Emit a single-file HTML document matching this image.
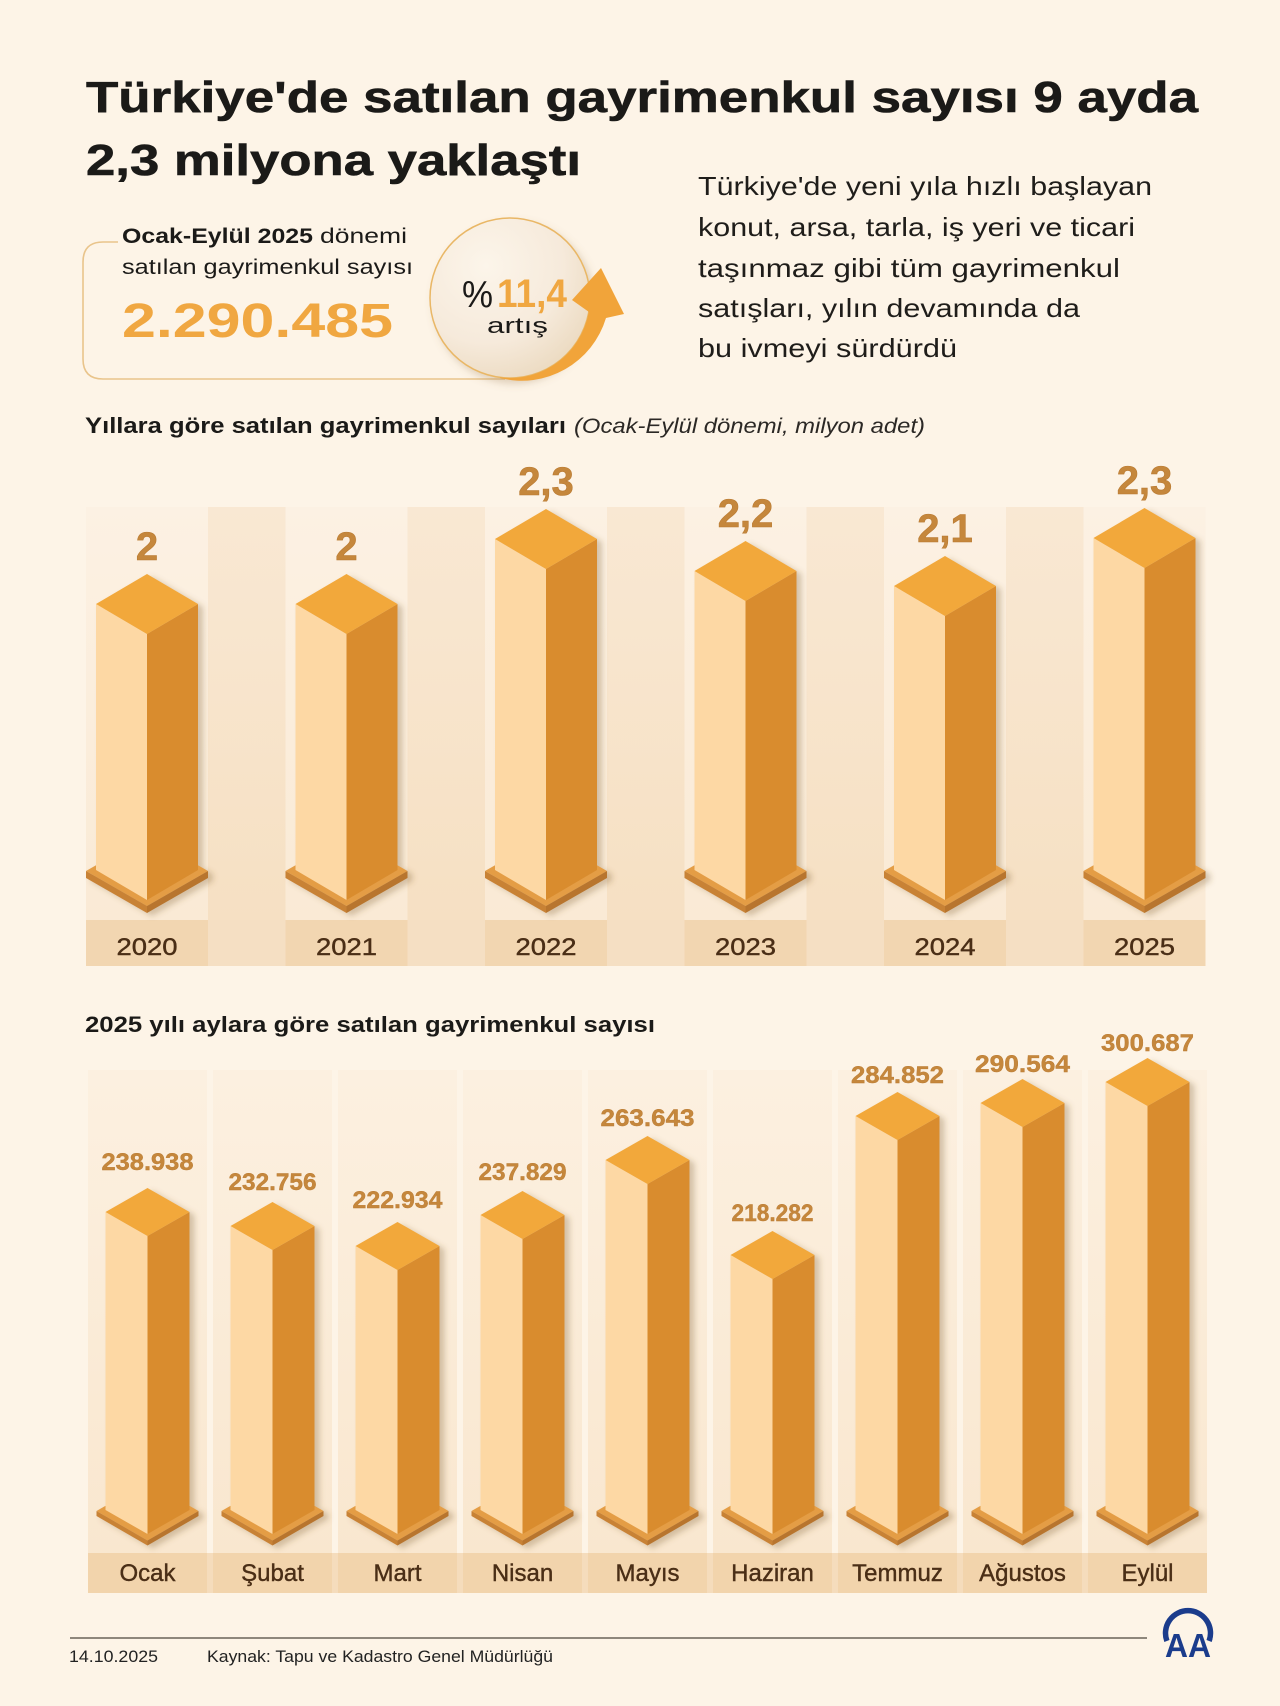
<!DOCTYPE html>
<html lang="tr">
<head>
<meta charset="utf-8">
<title>Türkiye'de satılan gayrimenkul sayısı</title>
<style>
  html,body{margin:0;padding:0;background:#fdf4e7;}
  svg{display:block;}
  text{font-family:"Liberation Sans",Arial,sans-serif;}
</style>
</head>
<body>
<svg width="1280" height="1706" viewBox="0 0 1280 1706" xmlns="http://www.w3.org/2000/svg">
  <defs>
    <linearGradient id="colA" x1="0" y1="0" x2="0" y2="1">
      <stop offset="0" stop-color="#fcf1e3"/>
      <stop offset="1" stop-color="#faead5"/>
    </linearGradient>
    <linearGradient id="gapA" x1="0" y1="0" x2="0" y2="1">
      <stop offset="0" stop-color="#f9e8d3"/>
      <stop offset="1" stop-color="#f6e0c3"/>
    </linearGradient>
    <linearGradient id="colB" x1="0" y1="0" x2="0" y2="1">
      <stop offset="0" stop-color="#fcf0e0"/>
      <stop offset="1" stop-color="#f9e7cf"/>
    </linearGradient>
    <radialGradient id="circ" cx="0.35" cy="0.3" r="0.8">
      <stop offset="0" stop-color="#fcf5ea"/>
      <stop offset="0.6" stop-color="#f6eadb"/>
      <stop offset="1" stop-color="#ead8bd"/>
    </radialGradient>
    <filter id="sh" x="-30%" y="-10%" width="160%" height="130%">
      <feDropShadow dx="5" dy="3" stdDeviation="3" flood-color="#7a5a30" flood-opacity="0.3"/>
    </filter>
    <filter id="csh" x="-30%" y="-30%" width="160%" height="160%">
      <feDropShadow dx="4" dy="5" stdDeviation="4" flood-color="#9a7a50" flood-opacity="0.3"/>
    </filter>
    <g id="plate1">
      <polygon points="-61,871 0,836 61,871 0,906" fill="#e49d45"/>
      <polygon points="-61,871 0,906 0,913 -61,878" fill="#c88236"/>
      <polygon points="0,906 61,871 61,878 0,913" fill="#b8752d"/>
    </g>
    <g id="plate2">
      <polygon points="-51,1511 0,1481.5 51,1511 0,1540.5" fill="#e49d45"/>
      <polygon points="-51,1511 0,1540.5 0,1545.5 -51,1516" fill="#c88236"/>
      <polygon points="0,1540.5 51,1511 51,1516 0,1545.5" fill="#b8752d"/>
    </g>
  </defs>

  <rect x="0" y="0" width="1280" height="1706" fill="#fdf4e7"/>

  <!-- Title -->
  <text x="86" y="112" font-size="44" font-weight="bold" fill="#1b1a18" stroke="#1b1a18" stroke-width="0.6" textLength="1112" lengthAdjust="spacingAndGlyphs">Türkiye'de satılan gayrimenkul sayısı 9 ayda</text>
  <text x="86" y="175" font-size="44" font-weight="bold" fill="#1b1a18" stroke="#1b1a18" stroke-width="0.6" textLength="495" lengthAdjust="spacingAndGlyphs">2,3 milyona yaklaştı</text>

  <!-- Summary box -->
  <path d="M 118 242 L 103 242 Q 83 242 83 262 L 83 359 Q 83 379 103 379 L 505 379" fill="none" stroke="#e9c48b" stroke-width="1.6"/>
  <text x="122" y="243" font-size="21" font-weight="bold" fill="#1b1a18" textLength="191" lengthAdjust="spacingAndGlyphs">Ocak-Eylül 2025</text>
  <text x="320" y="243" font-size="21" fill="#1b1a18" textLength="87" lengthAdjust="spacingAndGlyphs">dönemi</text>
  <text x="122" y="274" font-size="21" fill="#1b1a18" textLength="291" lengthAdjust="spacingAndGlyphs">satılan gayrimenkul sayısı</text>
  <text x="122" y="337" font-size="48" font-weight="bold" fill="#f0a741" textLength="271" lengthAdjust="spacingAndGlyphs">2.290.485</text>

  <!-- Circle with arrow -->
  <circle cx="510" cy="298" r="80" fill="url(#circ)" stroke="#e9b766" stroke-width="1.5" filter="url(#csh)"/>
  <path d="M 500 378 A 88 88 0 0 0 606 318 L 624 314 L 601 268 L 572 300 L 588.8 311.9 A 80 80 0 0 1 500 377.4 Z" fill="#f1a43a"/>
  <text x="462" y="307" font-size="38" fill="#1b1a18" textLength="31" lengthAdjust="spacingAndGlyphs">%</text>
  <text x="497" y="307" font-size="40" font-weight="bold" fill="#f0a741" textLength="70" lengthAdjust="spacingAndGlyphs">11,4</text>
  <text x="487" y="333" font-size="22" fill="#1b1a18" textLength="61" lengthAdjust="spacingAndGlyphs">artış</text>

  <!-- Paragraph -->
  <g font-size="26" fill="#1f1d1a">
    <text x="698" y="195" textLength="454" lengthAdjust="spacingAndGlyphs">Türkiye'de yeni yıla hızlı başlayan</text>
    <text x="698" y="236" textLength="437" lengthAdjust="spacingAndGlyphs">konut, arsa, tarla, iş yeri ve ticari</text>
    <text x="698" y="277" textLength="422" lengthAdjust="spacingAndGlyphs">taşınmaz gibi tüm gayrimenkul</text>
    <text x="698" y="317" textLength="382" lengthAdjust="spacingAndGlyphs">satışları, yılın devamında da</text>
    <text x="698" y="357" textLength="259" lengthAdjust="spacingAndGlyphs">bu ivmeyi sürdürdü</text>
  </g>

  <!-- Chart 1 heading -->
  <text x="85" y="433" font-size="22" font-weight="bold" fill="#1b1a18" textLength="481" lengthAdjust="spacingAndGlyphs">Yıllara göre satılan gayrimenkul sayıları</text>
  <text x="574" y="433" font-size="21" font-style="italic" fill="#2b2825" textLength="351" lengthAdjust="spacingAndGlyphs">(Ocak-Eylül dönemi, milyon adet)</text>

  <!-- Chart 1 background -->
  <g>
    <rect x="86" y="507" width="122" height="413" fill="url(#colA)"/>
    <rect x="208" y="507" width="77.5" height="413" fill="url(#gapA)"/>
    <rect x="285.5" y="507" width="122" height="413" fill="url(#colA)"/>
    <rect x="407.5" y="507" width="77.5" height="413" fill="url(#gapA)"/>
    <rect x="485" y="507" width="122" height="413" fill="url(#colA)"/>
    <rect x="607" y="507" width="77.5" height="413" fill="url(#gapA)"/>
    <rect x="684.5" y="507" width="122" height="413" fill="url(#colA)"/>
    <rect x="806.5" y="507" width="77.5" height="413" fill="url(#gapA)"/>
    <rect x="884" y="507" width="122" height="413" fill="url(#colA)"/>
    <rect x="1006" y="507" width="77.5" height="413" fill="url(#gapA)"/>
    <rect x="1083.5" y="507" width="122" height="413" fill="url(#colA)"/>
    <!-- band -->
    <rect x="86" y="920" width="1119.5" height="46" fill="#f5dfc3"/>
    <rect x="86" y="920" width="122" height="46" fill="#f2d6b1"/>
    <rect x="285.5" y="920" width="122" height="46" fill="#f2d6b1"/>
    <rect x="485" y="920" width="122" height="46" fill="#f2d6b1"/>
    <rect x="684.5" y="920" width="122" height="46" fill="#f2d6b1"/>
    <rect x="884" y="920" width="122" height="46" fill="#f2d6b1"/>
    <rect x="1083.5" y="920" width="122" height="46" fill="#f2d6b1"/>
  </g>

  <!-- Chart 1 bars -->
  <g filter="url(#sh)">
    <g transform="translate(147,0)">
      <use href="#plate1"/>
      <polygon points="-51,604 0,634 0,900 -51,870" fill="#fdd8a4"/>
      <polygon points="0,634 51,604 51,870 0,900" fill="#d98c2f"/>
      <polygon points="-51,604 0,574 51,604 0,634" fill="#f2a83b"/>
    </g>
    <g transform="translate(346.5,0)">
      <use href="#plate1"/>
      <polygon points="-51,604 0,634 0,900 -51,870" fill="#fdd8a4"/>
      <polygon points="0,634 51,604 51,870 0,900" fill="#d98c2f"/>
      <polygon points="-51,604 0,574 51,604 0,634" fill="#f2a83b"/>
    </g>
    <g transform="translate(546,0)">
      <use href="#plate1"/>
      <polygon points="-51,539 0,569 0,900 -51,870" fill="#fdd8a4"/>
      <polygon points="0,569 51,539 51,870 0,900" fill="#d98c2f"/>
      <polygon points="-51,539 0,509 51,539 0,569" fill="#f2a83b"/>
    </g>
    <g transform="translate(745.5,0)">
      <use href="#plate1"/>
      <polygon points="-51,571 0,601 0,900 -51,870" fill="#fdd8a4"/>
      <polygon points="0,601 51,571 51,870 0,900" fill="#d98c2f"/>
      <polygon points="-51,571 0,541 51,571 0,601" fill="#f2a83b"/>
    </g>
    <g transform="translate(945,0)">
      <use href="#plate1"/>
      <polygon points="-51,586 0,616 0,900 -51,870" fill="#fdd8a4"/>
      <polygon points="0,616 51,586 51,870 0,900" fill="#d98c2f"/>
      <polygon points="-51,586 0,556 51,586 0,616" fill="#f2a83b"/>
    </g>
    <g transform="translate(1144.5,0)">
      <use href="#plate1"/>
      <polygon points="-51,538 0,568 0,900 -51,870" fill="#fdd8a4"/>
      <polygon points="0,568 51,538 51,870 0,900" fill="#d98c2f"/>
      <polygon points="-51,538 0,508 51,538 0,568" fill="#f2a83b"/>
    </g>
  </g>

  <!-- Chart 1 value labels -->
  <g font-size="40" font-weight="bold" fill="#c5873c" text-anchor="middle" stroke="#b97a32" stroke-width="0.6">
    <text x="147" y="560">2</text>
    <text x="346.5" y="560">2</text>
    <text x="546" y="495">2,3</text>
    <text x="745.5" y="527">2,2</text>
    <text x="945" y="542">2,1</text>
    <text x="1144.5" y="494">2,3</text>
  </g>

  <!-- Chart 1 year labels -->
  <g font-size="24" fill="#4a2e16" text-anchor="middle" stroke="#4a2e16" stroke-width="0.4">
    <text x="147" y="955" textLength="61" lengthAdjust="spacingAndGlyphs">2020</text>
    <text x="346.5" y="955" textLength="61" lengthAdjust="spacingAndGlyphs">2021</text>
    <text x="546" y="955" textLength="61" lengthAdjust="spacingAndGlyphs">2022</text>
    <text x="745.5" y="955" textLength="61" lengthAdjust="spacingAndGlyphs">2023</text>
    <text x="945" y="955" textLength="61" lengthAdjust="spacingAndGlyphs">2024</text>
    <text x="1144.5" y="955" textLength="61" lengthAdjust="spacingAndGlyphs">2025</text>
  </g>

  <!-- Chart 2 heading -->
  <text x="85" y="1032" font-size="22" font-weight="bold" fill="#1b1a18" textLength="570" lengthAdjust="spacingAndGlyphs">2025 yılı aylara göre satılan gayrimenkul sayısı</text>

  <!-- Chart 2 background -->
  <g>
    <rect x="88" y="1070" width="119" height="483" fill="url(#colB)"/>
    <rect x="213" y="1070" width="119" height="483" fill="url(#colB)"/>
    <rect x="338" y="1070" width="119" height="483" fill="url(#colB)"/>
    <rect x="463" y="1070" width="119" height="483" fill="url(#colB)"/>
    <rect x="588" y="1070" width="119" height="483" fill="url(#colB)"/>
    <rect x="713" y="1070" width="119" height="483" fill="url(#colB)"/>
    <rect x="838" y="1070" width="119" height="483" fill="url(#colB)"/>
    <rect x="963" y="1070" width="119" height="483" fill="url(#colB)"/>
    <rect x="1088" y="1070" width="119" height="483" fill="url(#colB)"/>
    <rect x="88" y="1553" width="1119" height="40" fill="#f5dcbc"/>
    <rect x="88" y="1553" width="119" height="40" fill="#f2d4ac"/>
    <rect x="213" y="1553" width="119" height="40" fill="#f2d4ac"/>
    <rect x="338" y="1553" width="119" height="40" fill="#f2d4ac"/>
    <rect x="463" y="1553" width="119" height="40" fill="#f2d4ac"/>
    <rect x="588" y="1553" width="119" height="40" fill="#f2d4ac"/>
    <rect x="713" y="1553" width="119" height="40" fill="#f2d4ac"/>
    <rect x="838" y="1553" width="119" height="40" fill="#f2d4ac"/>
    <rect x="963" y="1553" width="119" height="40" fill="#f2d4ac"/>
    <rect x="1088" y="1553" width="119" height="40" fill="#f2d4ac"/>
  </g>

  <!-- Chart 2 bars -->
  <g filter="url(#sh)">
    <g transform="translate(147.5,0)">
      <use href="#plate2"/>
      <polygon points="-42,1212 0,1236 0,1534 -42,1510" fill="#fdd8a4"/>
      <polygon points="0,1236 42,1212 42,1510 0,1534" fill="#d98c2f"/>
      <polygon points="-42,1212 0,1188 42,1212 0,1236" fill="#f2a83b"/>
    </g>
    <g transform="translate(272.5,0)">
      <use href="#plate2"/>
      <polygon points="-42,1226 0,1250 0,1534 -42,1510" fill="#fdd8a4"/>
      <polygon points="0,1250 42,1226 42,1510 0,1534" fill="#d98c2f"/>
      <polygon points="-42,1226 0,1202 42,1226 0,1250" fill="#f2a83b"/>
    </g>
    <g transform="translate(397.5,0)">
      <use href="#plate2"/>
      <polygon points="-42,1246 0,1270 0,1534 -42,1510" fill="#fdd8a4"/>
      <polygon points="0,1270 42,1246 42,1510 0,1534" fill="#d98c2f"/>
      <polygon points="-42,1246 0,1222 42,1246 0,1270" fill="#f2a83b"/>
    </g>
    <g transform="translate(522.5,0)">
      <use href="#plate2"/>
      <polygon points="-42,1215 0,1239 0,1534 -42,1510" fill="#fdd8a4"/>
      <polygon points="0,1239 42,1215 42,1510 0,1534" fill="#d98c2f"/>
      <polygon points="-42,1215 0,1191 42,1215 0,1239" fill="#f2a83b"/>
    </g>
    <g transform="translate(647.5,0)">
      <use href="#plate2"/>
      <polygon points="-42,1160 0,1184 0,1534 -42,1510" fill="#fdd8a4"/>
      <polygon points="0,1184 42,1160 42,1510 0,1534" fill="#d98c2f"/>
      <polygon points="-42,1160 0,1136 42,1160 0,1184" fill="#f2a83b"/>
    </g>
    <g transform="translate(772.5,0)">
      <use href="#plate2"/>
      <polygon points="-42,1255 0,1279 0,1534 -42,1510" fill="#fdd8a4"/>
      <polygon points="0,1279 42,1255 42,1510 0,1534" fill="#d98c2f"/>
      <polygon points="-42,1255 0,1231 42,1255 0,1279" fill="#f2a83b"/>
    </g>
    <g transform="translate(897.5,0)">
      <use href="#plate2"/>
      <polygon points="-42,1116 0,1140 0,1534 -42,1510" fill="#fdd8a4"/>
      <polygon points="0,1140 42,1116 42,1510 0,1534" fill="#d98c2f"/>
      <polygon points="-42,1116 0,1092 42,1116 0,1140" fill="#f2a83b"/>
    </g>
    <g transform="translate(1022.5,0)">
      <use href="#plate2"/>
      <polygon points="-42,1103 0,1127 0,1534 -42,1510" fill="#fdd8a4"/>
      <polygon points="0,1127 42,1103 42,1510 0,1534" fill="#d98c2f"/>
      <polygon points="-42,1103 0,1079 42,1103 0,1127" fill="#f2a83b"/>
    </g>
    <g transform="translate(1147.5,0)">
      <use href="#plate2"/>
      <polygon points="-42,1082 0,1106 0,1534 -42,1510" fill="#fdd8a4"/>
      <polygon points="0,1106 42,1082 42,1510 0,1534" fill="#d98c2f"/>
      <polygon points="-42,1082 0,1058 42,1082 0,1106" fill="#f2a83b"/>
    </g>
  </g>

  <!-- Chart 2 value labels -->
  <g font-size="24" font-weight="bold" fill="#c5873c" text-anchor="middle" stroke="#b97a32" stroke-width="0.4">
    <text x="147.5" y="1170" textLength="92" lengthAdjust="spacingAndGlyphs">238.938</text>
    <text x="272.5" y="1190" textLength="88" lengthAdjust="spacingAndGlyphs">232.756</text>
    <text x="397.5" y="1208" textLength="90" lengthAdjust="spacingAndGlyphs">222.934</text>
    <text x="522.5" y="1180" textLength="88" lengthAdjust="spacingAndGlyphs">237.829</text>
    <text x="647.5" y="1126" textLength="94" lengthAdjust="spacingAndGlyphs">263.643</text>
    <text x="772.5" y="1221" textLength="82" lengthAdjust="spacingAndGlyphs">218.282</text>
    <text x="897.5" y="1083" textLength="93" lengthAdjust="spacingAndGlyphs">284.852</text>
    <text x="1022.5" y="1072" textLength="95" lengthAdjust="spacingAndGlyphs">290.564</text>
    <text x="1147.5" y="1051" textLength="93" lengthAdjust="spacingAndGlyphs">300.687</text>
  </g>

  <!-- Chart 2 month labels -->
  <g font-size="24" fill="#4a2e16" text-anchor="middle" stroke="#4a2e16" stroke-width="0.4">
    <text x="147.5" y="1581">Ocak</text>
    <text x="272.5" y="1581">Şubat</text>
    <text x="397.5" y="1581">Mart</text>
    <text x="522.5" y="1581">Nisan</text>
    <text x="647.5" y="1581">Mayıs</text>
    <text x="772.5" y="1581">Haziran</text>
    <text x="897.5" y="1581">Temmuz</text>
    <text x="1022.5" y="1581">Ağustos</text>
    <text x="1147.5" y="1581">Eylül</text>
  </g>

  <!-- Footer -->
  <line x1="70" y1="1638" x2="1147" y2="1638" stroke="#8e877c" stroke-width="2"/>
  <text x="69" y="1662" font-size="17" fill="#222" textLength="89" lengthAdjust="spacingAndGlyphs">14.10.2025</text>
  <text x="207" y="1662" font-size="17" fill="#222" textLength="346" lengthAdjust="spacingAndGlyphs">Kaynak: Tapu ve Kadastro Genel Müdürlüğü</text>

  <!-- AA logo -->
  <path d="M 1166.9 1641 A 22.5 22.5 0 1 1 1209.1 1641" fill="none" stroke="#1b3c8c" stroke-width="5.5"/>
  <text x="1188" y="1657" font-size="33" font-weight="bold" fill="#1b3c8c" text-anchor="middle" textLength="46" lengthAdjust="spacingAndGlyphs">AA</text>
</svg>
</body>
</html>
